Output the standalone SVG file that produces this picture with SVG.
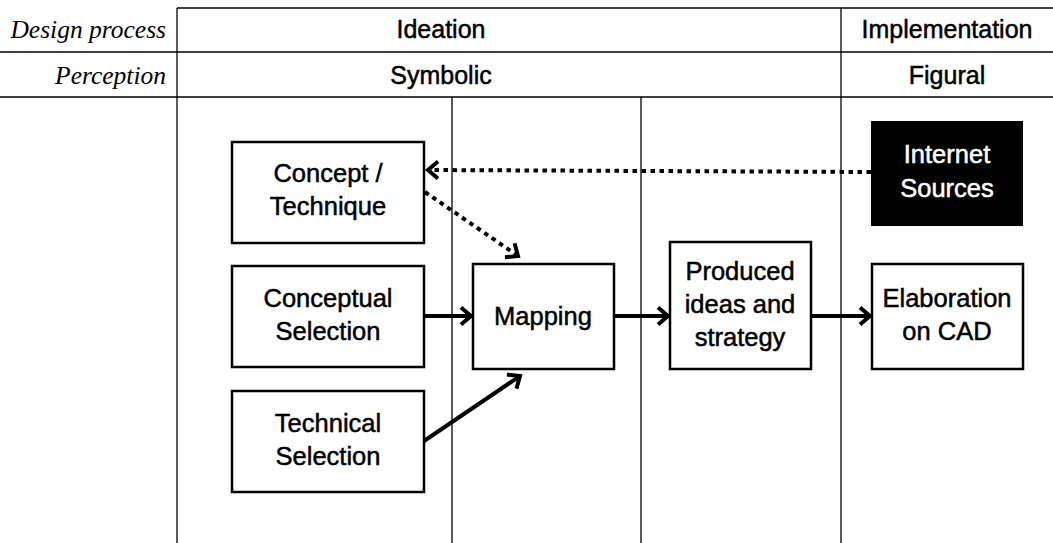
<svg xmlns="http://www.w3.org/2000/svg" width="1053" height="543" viewBox="0 0 1053 543">
<style>
.grid{stroke:#000;stroke-width:1.3;fill:none}
.box{fill:#fff;stroke:#000;stroke-width:2.5}
.dark{fill:#000;stroke:#000;stroke-width:2}
.t{font-family:"Liberation Sans",Arial,sans-serif;font-size:25.5px;text-anchor:middle;fill:#000;stroke:#000;stroke-width:0.5}
.w{fill:#fff;stroke:#fff}
.h{font-family:"Liberation Sans",Arial,sans-serif;font-size:25px;text-anchor:middle;fill:#000;stroke:#000;stroke-width:0.5}
.lab{font-family:"Liberation Serif","Times New Roman",serif;font-style:italic;font-size:25.5px;text-anchor:end;fill:#000}
.solid{stroke:#000;stroke-width:4;fill:none}
.dot{stroke:#000;stroke-width:4;fill:none;stroke-dasharray:4.5 4.5}
</style>
<defs>
<marker id="ah" markerUnits="userSpaceOnUse" markerWidth="24" markerHeight="24" viewBox="-12 -12 24 24" refX="0" refY="0" orient="auto">
<path d="M-10,-8.5 L0,0 L-10,8.5" fill="none" stroke="#000" stroke-width="4"/>
</marker>
</defs>
<rect width="1053" height="543" fill="#fff"/>
<g id="grid">
<line class="grid" x1="177" y1="8" x2="1053" y2="8"/>
<line class="grid" x1="0" y1="52" x2="1053" y2="52"/>
<line class="grid" x1="0" y1="97" x2="1053" y2="97"/>
<line class="grid" x1="177" y1="8" x2="177" y2="543"/>
<line class="grid" x1="841" y1="8" x2="841" y2="543"/>
<line class="grid" x1="452" y1="97" x2="452" y2="543"/>
<line class="grid" x1="641" y1="97" x2="641" y2="543"/>
</g>
<g id="headers">
<text class="lab" x="166" y="38">Design process</text>
<text class="lab" x="166" y="84">Perception</text>
<text class="h" x="441" y="38">Ideation</text>
<text class="h" x="441" y="84">Symbolic</text>
<text class="h" x="947" y="38">Implementation</text>
<text class="h" x="947" y="84">Figural</text>
</g>
<g id="connectors">
<line class="dot" x1="871" y1="172" x2="428" y2="170" marker-end="url(#ah)"/>
<line class="dot" x1="425" y1="192" x2="518" y2="256" marker-end="url(#ah)"/>
<line class="solid" x1="424" y1="316" x2="471" y2="316" marker-end="url(#ah)"/>
<line class="solid" x1="614" y1="316" x2="668" y2="316" marker-end="url(#ah)"/>
<line class="solid" x1="811" y1="316" x2="870" y2="316" marker-end="url(#ah)"/>
<line class="solid" x1="424" y1="441" x2="520" y2="376" marker-end="url(#ah)"/>
</g>
<g id="concept">
<rect class="box" x="232" y="142" width="192" height="101"/>
<text class="t" x="328" y="182">Concept /</text>
<text class="t" x="328" y="215">Technique</text>
</g>
<g id="conceptual">
<rect class="box" x="232" y="266" width="192" height="101"/>
<text class="t" x="328" y="307">Conceptual</text>
<text class="t" x="328" y="340">Selection</text>
</g>
<g id="technical">
<rect class="box" x="232" y="391" width="192" height="101"/>
<text class="t" x="328" y="432">Technical</text>
<text class="t" x="328" y="465">Selection</text>
</g>
<g id="mapping">
<rect class="box" x="473" y="264" width="141" height="105"/>
<text class="t" x="543" y="325">Mapping</text>
</g>
<g id="produced">
<rect class="box" x="670" y="242" width="141" height="127"/>
<text class="t" x="740" y="280">Produced</text>
<text class="t" x="740" y="313">ideas and</text>
<text class="t" x="740" y="346">strategy</text>
</g>
<g id="internet">
<rect class="dark" x="872" y="122" width="150" height="103"/>
<text class="t w" x="947" y="163">Internet</text>
<text class="t w" x="947" y="197">Sources</text>
</g>
<g id="elaboration">
<rect class="box" x="872" y="264" width="151" height="105"/>
<text class="t" x="947" y="307">Elaboration</text>
<text class="t" x="947" y="340">on CAD</text>
</g>
</svg>
